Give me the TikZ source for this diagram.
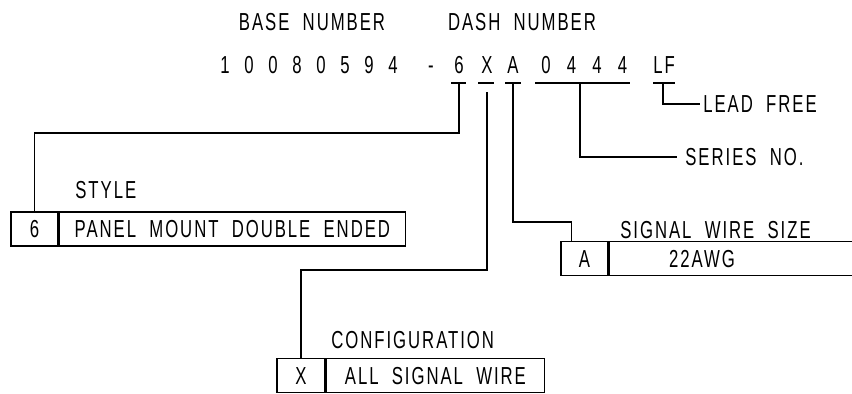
\documentclass[tikz,border=0pt]{standalone}
\usepackage{fontspec}
\usepackage{tikz}
\usetikzlibrary{positioning}
\usetikzlibrary{calc}

\newfontfamily\cadfont[FakeStretch=0.68, LetterSpace=8, WordSpace=2]{Liberation Sans}

\tikzset{
	cadtext/.style={font=\cadfont\fontsize{14}{14}\selectfont, inner sep=0pt, text height=10pt, text depth=0pt},
	cell/.style={draw, thick, cadtext, minimum height=0.67cm},
	leader/.style={thick},
}

\begin{document}
\begin{tikzpicture}[x=0.02cm, y=-0.02cm]

	% Proper size --- Bounding box
	\useasboundingbox (0,0) rectangle (852,393);

	% ------------------------------------------------
	% HEADINGS AND PART NUMBER
	% ------------------------------------------------
	\node[cadtext] (Base) at (312,22) {BASE NUMBER};
	\node[cadtext] (Dash) at (522,22) {DASH NUMBER};

	\foreach \d [count=\i from 0] in {1,0,0,8,0,5,9,4}
		\node[cadtext] (B\i) at (225+24*\i,65) {\d};
	\node[cadtext] (Minus) at (431,65) {-};
	\node[cadtext] (N6) at (459,65) {6};
	\node[cadtext] (NX) at (487,65) {X};
	\node[cadtext] (NA) at (513,65) {A};
	\foreach \d [count=\i from 0] in {0,4,4,4}
		\node[cadtext] (S\i) at (546+25.5*\i,65) {\d};
	\node[cadtext] (LF) at (664,65) {LF};

	% Underlines
	\coordinate (U6a) at (451,83);	\coordinate (U6b) at (466,83);
	\coordinate (UXa) at (478,83);	\coordinate (UXb) at (494,83);
	\coordinate (UAa) at (505,83);	\coordinate (UAb) at (521,83);
	\coordinate (USa) at (535,83);	\coordinate (USb) at (630,83);
	\coordinate (ULa) at (653,83);	\coordinate (ULb) at (675,83);
	\foreach \u in {6,X,A,S,L}
		\draw[leader] (U\u a) -- (U\u b);

	% ------------------------------------------------
	% TABLES
	% ------------------------------------------------
	% Style
	\node[cadtext, anchor=west] (StyHead) at (75,190) {STYLE};
	\node[cell, minimum width=0.94cm, minimum height=0.68cm] (Sty6) at (34.5,229) {6};
	\node[cell, minimum width=6.92cm, minimum height=0.68cm, right=0pt of Sty6] (StyTxt) {PANEL MOUNT DOUBLE ENDED};

	% Configuration
	\node[cadtext, anchor=west] (CfgHead) at (331,340) {CONFIGURATION};
	\node[cell, minimum width=0.96cm] (CfgX) at (301,375.5) {X};
	\node[cell, minimum width=4.36cm, right=0pt of CfgX] (CfgTxt) {ALL SIGNAL WIRE};

	% Signal wire size
	\node[cadtext, anchor=west] (SigHead) at (620,230) {SIGNAL WIRE SIZE};
	\node[cell, minimum width=0.94cm] (SigA) at (584.5,258.5) {A};
	\node[cell, minimum width=5.60cm, right=0pt of SigA] (SigTxt) {};
	\node[cadtext] (Awg) at (702,258.5) {22AWG};

	% Notes
	\node[cadtext, anchor=west] (Series) at (685,157) {SERIES NO.};
	\node[cadtext, anchor=west] (Lead) at (703,104) {LEAD FREE};

	% ------------------------------------------------
	% LEADERS
	% ------------------------------------------------
	\coordinate (T6) at (459,83);
	\coordinate (K6) at (459,133);
	\coordinate (TX) at (487,92);
	\coordinate (KX) at (487,270);
	\coordinate (TA) at (513,83);
	\coordinate (KA) at (513,222);
	\coordinate (TS) at (580,83);
	\coordinate (KS) at (580,157);
	\coordinate (TL) at (663,83);
	\coordinate (KL) at (663,104);

	\draw[leader] (T6) -- (K6) -| (Sty6.north);
	\draw[leader] (TX) -- (KX) -| (CfgX.north);
	\draw[leader] (TA) -- (KA) -| ($(SigA.north west)+(11,0)$);
	\draw[leader] (TS) -- (KS) -- ($(Series.west)+(-8,0)$);
	\draw[leader] (TL) -- (KL) -- ($(Lead.west)+(-3,0)$);

\end{tikzpicture}
\end{document}
